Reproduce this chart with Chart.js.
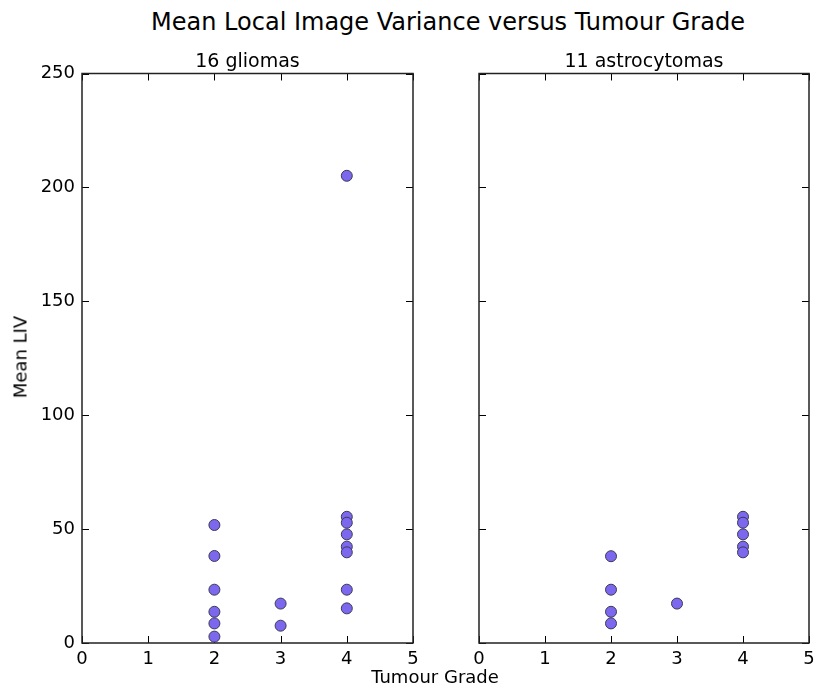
<!DOCTYPE html>
<html>
<head>
<meta charset="utf-8">
<script src="https://cdn.jsdelivr.net/npm/chart.js@4"></script>
<style>
  body { margin: 0; width: 814px; height: 686px; overflow: hidden; background: #fff; font-family: 'DejaVu Sans', sans-serif; position: relative; }
  canvas { position: absolute; top: 0; }
  #titre { position: absolute; left: 0; width: 896px; top: 8px; text-align: center; font-size: 24px; color: #000; }
  .sous-titre { position: absolute; top: 49px; font-size: 19px; color: #000; transform: translateX(-50%); white-space: nowrap; }
  #label-y { position: absolute; left: 20px; top: 357px; font-size: 18px; transform: translate(-50%, -50%) rotate(-90deg); white-space: nowrap; }
  #label-x { position: absolute; left: 435px; top: 676px; font-size: 18px; transform: translate(-50%, -50%); white-space: nowrap; }
</style>
</head>
<body>
<div id="titre">Mean Local Image Variance versus Tumour Grade</div>
<canvas id="chart-gliomes" width="430" height="686" style="left:0"></canvas>
<canvas id="chart-astro" width="400" height="686" style="left:430px"></canvas>
<div class="sous-titre" style="left:247.5px">16 gliomas</div>
<div class="sous-titre" style="left:644px">11 astrocytomas</div>
<div id="label-y">Mean LIV</div>
<div id="label-x">Tumour Grade</div>
<script>
// --- Données ---
const gradeGliomes = [2, 2, 2, 2, 2, 2, 3, 3, 4, 4, 4, 4, 4, 4, 4, 4];
const livGliomes = [51.8, 38.2, 23.4, 13.7, 8.6, 2.8, 17.3, 7.6, 205.1, 55.4, 52.8, 47.7, 42.3, 39.8, 23.4, 15.2];
const gradeAstro = [2, 2, 2, 2, 3, 4, 4, 4, 4, 4];
const livAstro = [38.1, 23.4, 13.7, 8.6, 17.3, 55.4, 52.8, 47.7, 42.3, 39.8];
const ticksX = [0, 1, 2, 3, 4, 5];
const ticksY = [0, 50, 100, 150, 200, 250];

// cadre + graduations vers l'intérieur (style matplotlib classique)
const cadre = {
  id: 'cadre',
  beforeDatasetsDraw(chart) {
    const {ctx, chartArea: a, scales: {x, y}} = chart;
    ctx.save();
    ctx.strokeStyle = '#000';
    ctx.lineWidth = 1;
    ctx.beginPath();
    ticksX.forEach(v => {
      let px = Math.round(x.getPixelForValue(v)) + 0.5;
      ctx.moveTo(px, a.bottom); ctx.lineTo(px, a.bottom - 7);
      ctx.moveTo(px, a.top); ctx.lineTo(px, a.top + 7);
    });
    ticksY.forEach(v => {
      let py = Math.round(y.getPixelForValue(v)) + 0.5;
      ctx.moveTo(a.left, py); ctx.lineTo(a.left + 7, py);
      ctx.moveTo(a.right, py); ctx.lineTo(a.right - 7, py);
    });
    ctx.stroke();
    ctx.lineWidth = 1.5;
    ctx.strokeStyle = '#222';
    ctx.strokeRect(a.left, a.top, a.right - a.left, a.bottom - a.top);
    ctx.restore();
  }
};

function creerGraphe(id, grades, valeurs, largeurY, afficherY, margeDroite) {
  const points = grades.map((g, i) => ({x: g, y: valeurs[i]}));
  return new Chart(document.getElementById(id), {
    type: 'scatter',
    data: {
      datasets: [{
        data: points,
        pointRadius: 5.5,
        pointHoverRadius: 5.5,
        pointBackgroundColor: '#7b68ee',
        pointBorderColor: '#3c3a55',
        pointBorderWidth: 1,
        clip: false
      }]
    },
    options: {
      responsive: false,
      animation: false,
      layout: { padding: { top: 73.5, right: margeDroite, bottom: 0, left: 0 } },
      plugins: {
        legend: { display: false },
        tooltip: { enabled: false }
      },
      scales: {
        x: {
          type: 'linear', min: 0, max: 5,
          afterBuildTicks: s => { s.ticks = ticksX.map(v => ({value: v})); },
          afterFit: s => { s.height = 43; },
          grid: { display: false, drawTicks: false },
          border: { display: false },
          ticks: { color: '#000', padding: 6, font: { family: 'DejaVu Sans', size: 18 }, maxRotation: 0 }
        },
        y: {
          type: 'linear', min: 0, max: 250,
          afterBuildTicks: s => { s.ticks = ticksY.map(v => ({value: v})); },
          afterFit: s => { s.width = largeurY; },
          grid: { display: false, drawTicks: false },
          border: { display: false },
          ticks: { display: afficherY, color: '#000', padding: 7, font: { family: 'DejaVu Sans', size: 18 } }
        }
      }
    },
    plugins: [cadre]
  });
}

creerGraphe('chart-gliomes', gradeGliomes, livGliomes, 82, true, 17);
creerGraphe('chart-astro', gradeAstro, livAstro, 49, false, 21);
</script>
</body>
</html>
